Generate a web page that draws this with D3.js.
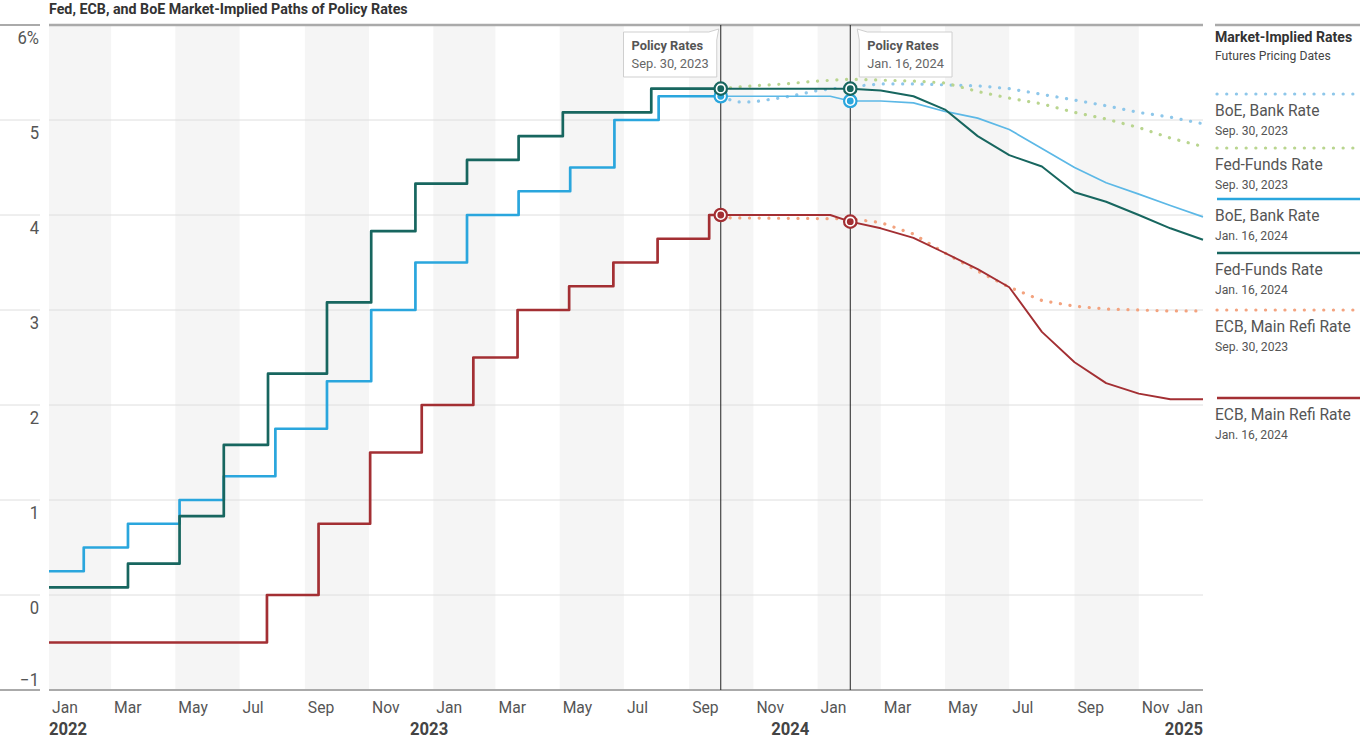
<!DOCTYPE html>
<html>
<head>
<meta charset="utf-8">
<script src="https://cdn.jsdelivr.net/npm/d3@7"></script>
<style>
  body { margin: 0; background: #fff; }
  svg { font-family: Roboto, "Noto Sans", sans-serif; }
</style>
</head>
<body>
<svg id="chart" width="1364" height="740"></svg>
<script>
// realised policy rates (step changes)
const fedHistory = [["2022-01-01",0.08],["2022-03-17",0.33],["2022-05-05",0.83],["2022-06-16",1.58],["2022-07-28",2.33],
  ["2022-09-22",3.08],["2022-11-03",3.83],["2022-12-15",4.33],["2023-02-02",4.58],["2023-03-23",4.83],
  ["2023-05-04",5.08],["2023-07-27",5.33],["2023-10-01",5.33]];
const boeHistory = [["2022-01-01",0.25],["2022-02-03",0.5],["2022-03-17",0.75],["2022-05-05",1.0],["2022-06-16",1.25],
  ["2022-08-04",1.75],["2022-09-22",2.25],["2022-11-03",3.0],["2022-12-15",3.5],["2023-02-02",4.0],
  ["2023-03-23",4.25],["2023-05-11",4.5],["2023-06-22",5.0],["2023-08-03",5.25],["2023-10-01",5.25]];
const ecbHistory = [["2022-01-01",-0.5],["2022-07-27",0.0],["2022-09-14",0.75],["2022-11-02",1.5],["2022-12-21",2.0],
  ["2023-02-08",2.5],["2023-03-22",3.0],["2023-05-10",3.25],["2023-06-21",3.5],["2023-08-02",3.75],
  ["2023-09-20",4.0],["2023-10-01",4.0]];

// futures-implied paths, pricing date Sep. 30, 2023
const boeSep = [["2023-10-01",5.25],["2023-10-15",5.19],["2023-11-01",5.19],["2023-12-01",5.24],["2024-01-01",5.31],
  ["2024-02-01",5.35],["2024-03-01",5.38],["2024-04-01",5.38],["2024-05-01",5.37],["2024-06-01",5.36],
  ["2024-07-01",5.33],["2024-08-01",5.27],["2024-09-01",5.21],["2024-10-01",5.15],["2024-11-01",5.08],
  ["2024-12-01",5.03],["2025-01-01",4.96]];
const fedSep = [["2023-10-01",5.33],["2023-11-01",5.36],["2023-12-01",5.38],["2024-01-01",5.41],["2024-02-01",5.43],
  ["2024-03-01",5.42],["2024-04-01",5.41],["2024-05-01",5.39],["2024-06-01",5.3],["2024-07-01",5.23],
  ["2024-08-01",5.17],["2024-09-01",5.08],["2024-10-01",5.01],["2024-11-01",4.92],["2024-12-01",4.81],
  ["2025-01-01",4.72]];
const ecbSep = [["2023-10-01",4.0],["2023-10-10",3.97],["2024-02-01",3.96],["2024-03-01",3.92],["2024-04-01",3.8],
  ["2024-05-01",3.6],["2024-06-01",3.41],["2024-07-01",3.24],["2024-08-01",3.1],["2024-09-01",3.04],
  ["2024-10-01",3.01],["2024-11-01",3.0],["2024-12-01",2.99],["2025-01-01",2.99]];

// futures-implied paths, pricing date Jan. 16, 2024
const boeJan = [["2023-10-01",5.25],["2024-01-13",5.25],["2024-02-01",5.2],["2024-03-01",5.2],["2024-04-01",5.18],
  ["2024-05-01",5.09],["2024-06-01",5.02],["2024-07-01",4.9],["2024-08-01",4.7],["2024-09-01",4.5],
  ["2024-10-01",4.34],["2024-11-01",4.22],["2024-12-01",4.1],["2025-01-01",3.98]];
const fedJan = [["2023-10-01",5.33],["2024-02-01",5.33],["2024-03-01",5.31],["2024-04-01",5.25],["2024-05-01",5.11],
  ["2024-06-01",4.83],["2024-07-01",4.63],["2024-08-01",4.51],["2024-09-01",4.24],["2024-10-01",4.14],
  ["2024-11-01",4.0],["2024-12-01",3.86],["2025-01-01",3.74]];
const ecbJan = [["2023-10-01",4.0],["2024-01-13",4.0],["2024-02-01",3.93],["2024-03-01",3.86],["2024-04-01",3.76],
  ["2024-05-01",3.6],["2024-06-01",3.43],["2024-07-01",3.24],["2024-08-01",2.77],["2024-09-01",2.45],
  ["2024-10-01",2.23],["2024-11-01",2.12],["2024-12-01",2.06],["2025-01-01",2.06]];

const snapshotDates = ["2023-10-01","2024-02-01"];
const snapshotLabels = ["Sep. 30, 2023","Jan. 16, 2024"];
const yTicks = [-1, 0, 1, 2, 3, 4, 5, 6];
const monthNames = ["Jan","Mar","May","Jul","Sep","Nov"];
const yearLabels = [["2022","2022-01-01"],["2023","2022-12-28"],["2024","2023-12-06"],["2025","2025-01-01"]];

const COLORS = {
  fed: "#17665f", boe: "#2aa6dd", ecb: "#a32f33",
  boeDot: "#8ec7ea", fedDot: "#b9d58f", ecbDot: "#f3a37f"
};

const parse = d3.timeParse("%Y-%m-%d");
const toPts = arr => arr.map(([d, v]) => ({ date: parse(d), value: v }));

const svg = d3.select("#chart");
const M = { left: 49, right: 1203, top: 25, bottom: 690 };

const x = d3.scaleTime()
  .domain([parse("2022-01-01"), parse("2025-01-01")])
  .range([M.left, M.right]);
const y = d3.scaleLinear().domain([-1, 6]).range([M.bottom, M.top]);

// title; its width sets the horizontal squeeze used to fake a condensed face
const title = svg.append("text")
  .attr("x", M.left).attr("y", 14)
  .attr("font-size", 15).attr("font-weight", "bold").attr("fill", "#333")
  .text("Fed, ECB, and BoE Market-Implied Paths of Policy Rates");
const sx = 359 / title.node().getComputedTextLength();

// alternating two-month bands
const bandStarts = d3.timeMonth.every(4).range(parse("2022-01-01"), parse("2025-01-01"));
svg.insert("g", "text").selectAll("rect")
  .data(bandStarts)
  .join("rect")
  .attr("x", d => x(d))
  .attr("width", d => Math.min(x(d3.timeMonth.offset(d, 2)), M.right) - x(d))
  .attr("y", M.top).attr("height", M.bottom - M.top)
  .attr("fill", "#f5f5f5");

// gridlines + y labels
const grid = svg.append("g");
grid.selectAll("line.g")
  .data(yTicks.filter(t => t > -1 && t < 6))
  .join("line")
  .attr("class", "g")
  .attr("x1", M.left).attr("x2", M.right)
  .attr("y1", d => y(d)).attr("y2", d => y(d))
  .attr("stroke", "#dedede").attr("stroke-width", 1);
grid.selectAll("line.l")
  .data(yTicks)
  .join("line")
  .attr("class", "l")
  .attr("x1", 0).attr("x2", 40)
  .attr("y1", d => y(d)).attr("y2", d => y(d))
  .attr("stroke", d => (d === 6 || d === -1) ? "#aaa" : "#dedede")
  .attr("stroke-width", d => (d === 6 || d === -1) ? 2 : 1);
grid.selectAll("text")
  .data(yTicks)
  .join("text")
  .attr("x", 39)
  .attr("y", d => d === -1 ? y(d) - 4 : y(d) + 19)
  .attr("text-anchor", "end")
  .attr("font-size", 17.5).attr("fill", "#555")
  .text(d => d === 6 ? "6%" : (d < 0 ? "\u2212" + Math.abs(d) : d));

// top and bottom rules
svg.append("line").attr("x1", M.left).attr("x2", M.right).attr("y1", M.top).attr("y2", M.top)
  .attr("stroke", "#aaa").attr("stroke-width", 2.5);
svg.append("line").attr("x1", M.left).attr("x2", M.right).attr("y1", M.bottom).attr("y2", M.bottom)
  .attr("stroke", "#aaa").attr("stroke-width", 2);

// x axis labels
const months = d3.timeMonth.every(2).range(parse("2022-01-01"), parse("2025-01-02"));
svg.append("g").selectAll("text")
  .data(months)
  .join("text")
  .attr("x", (d, i) => i === months.length - 1 ? M.right : x(d) + 3)
  .attr("y", 713)
  .attr("text-anchor", (d, i) => i === months.length - 1 ? "end" : "start")
  .attr("font-size", 16.5).attr("fill", "#555")
  .text(d => monthNames[d.getMonth() / 2]);
svg.append("g").selectAll("text")
  .data(yearLabels)
  .join("text")
  .attr("x", (d, i) => i === yearLabels.length - 1 ? M.right : x(parse(d[1])))
  .attr("y", 735)
  .attr("text-anchor", (d, i) => i === 0 ? "start" : (i === yearLabels.length - 1 ? "end" : "middle"))
  .attr("font-size", 17.5).attr("font-weight", "bold").attr("fill", "#444")
  .text(d => d[0]);

// lines
const stepLine = d3.line().x(d => x(d.date)).y(d => y(d.value)).curve(d3.curveStepAfter);
const line = d3.line().x(d => x(d.date)).y(d => y(d.value));
const plot = svg.append("g").attr("fill", "none");

[[boeHistory, COLORS.boe], [ecbHistory, COLORS.ecb], [fedHistory, COLORS.fed]].forEach(([data, c]) => {
  plot.append("path").attr("d", stepLine(toPts(data)))
    .attr("stroke", c).attr("stroke-width", 2.7).attr("stroke-linejoin", "round");
});

[[boeSep, COLORS.boeDot], [fedSep, COLORS.fedDot], [ecbSep, COLORS.ecbDot]].forEach(([data, c]) => {
  plot.append("path").attr("d", line(toPts(data)))
    .attr("stroke", c).attr("stroke-width", 3.2)
    .attr("stroke-linecap", "round").attr("stroke-dasharray", "0.1 9.6");
});

[[boeJan, "#5cb8e6", 1.7], [ecbJan, COLORS.ecb, 1.9], [fedJan, COLORS.fed, 2]].forEach(([data, c, w]) => {
  plot.append("path").attr("d", line(toPts(data)))
    .attr("stroke", c).attr("stroke-width", w).attr("stroke-linejoin", "round");
});

// snapshot lines
svg.append("g").selectAll("line")
  .data(snapshotDates)
  .join("line")
  .attr("x1", d => x(parse(d))).attr("x2", d => x(parse(d)))
  .attr("y1", M.top).attr("y2", M.bottom)
  .attr("stroke", "#222").attr("stroke-width", 1);

// markers on policy rate at each snapshot
const valueAt = (data, d) => toPts(data).find(p => +p.date === +parse(d)).value;
const markers = [];
snapshotDates.forEach(d => {
  [[boeJan, COLORS.boe], [ecbJan, COLORS.ecb], [fedJan, COLORS.fed]].forEach(([data, c]) => {
    markers.push({ date: parse(d), value: valueAt(data, d), color: c });
  });
});
const mk = svg.append("g").selectAll("g").data(markers).join("g")
  .attr("transform", d => `translate(${x(d.date)},${y(d.value)})`);
mk.append("circle").attr("r", 6.2).attr("fill", "#fff").attr("stroke", d => d.color).attr("stroke-width", 2.2);
mk.append("circle").attr("r", 3.4).attr("fill", d => d.color);

// annotation callouts
snapshotDates.forEach((d, i) => {
  const lx = x(parse(d));
  const g = svg.append("g");
  const path = g.append("path").attr("fill", "#fff").attr("stroke", "#cfcfcf").attr("stroke-width", 1);
  const t1 = g.append("text").attr("font-size", 13.5).attr("font-weight", "bold").attr("fill", "#555").text("Policy Rates");
  const t2 = g.append("text").attr("font-size", 13.5).attr("fill", "#666").text(snapshotLabels[i]);
  const w = Math.max(t1.node().getComputedTextLength(), t2.node().getComputedTextLength()) * sx + 16;
  const bt = 32, bb = 77;
  let bl, br, p;
  if (i === 0) {
    br = lx - 4; bl = br - w;
    p = `M${bl},${bt}H${br - 8}L${br + 2},${bt - 3}L${br},${bt + 8}V${bb}H${bl}Z`;
  } else {
    bl = lx + 9; br = bl + w;
    p = `M${br},${bt}H${bl + 8}L${bl - 2},${bt - 3}L${bl},${bt + 8}V${bb}H${br}Z`;
  }
  path.attr("d", p);
  t1.attr("x", bl + 8).attr("y", 50);
  t2.attr("x", bl + 8).attr("y", 68);
});

// legend
const lg = svg.append("g");
const lx0 = 1215, lx1 = 1360;
lg.append("line").attr("x1", lx0).attr("x2", lx1).attr("y1", M.top).attr("y2", M.top)
  .attr("stroke", "#aaa").attr("stroke-width", 2.5);
lg.append("text").attr("x", lx0).attr("y", 42).attr("font-size", 14.8).attr("font-weight", "bold")
  .attr("fill", "#333").text("Market-Implied Rates");
lg.append("text").attr("x", lx0).attr("y", 60).attr("font-size", 12.8).attr("fill", "#444")
  .text("Futures Pricing Dates");

const legendItems = [
  { name: "BoE, Bank Rate", date: snapshotLabels[0], color: COLORS.boeDot, dotted: true, ly: 94 },
  { name: "Fed-Funds Rate", date: snapshotLabels[0], color: COLORS.fedDot, dotted: true, ly: 148 },
  { name: "BoE, Bank Rate", date: snapshotLabels[1], color: COLORS.boe, dotted: false, ly: 199 },
  { name: "Fed-Funds Rate", date: snapshotLabels[1], color: COLORS.fed, dotted: false, ly: 253 },
  { name: "ECB, Main Refi Rate", date: snapshotLabels[0], color: COLORS.ecbDot, dotted: true, ly: 310 },
  { name: "ECB, Main Refi Rate", date: snapshotLabels[1], color: COLORS.ecb, dotted: false, ly: 398 }
];
const li = lg.selectAll("g.item").data(legendItems).join("g")
  .attr("class", "item")
  .attr("transform", d => `translate(${lx0},${d.ly})`);
li.append("line").attr("x1", 2).attr("x2", lx1 - lx0)
  .attr("stroke", d => d.color)
  .attr("stroke-width", d => d.dotted ? 3.2 : 2.5)
  .attr("stroke-linecap", d => d.dotted ? "round" : "butt")
  .attr("stroke-dasharray", d => d.dotted ? "0.1 9.6" : null);
li.append("text").attr("x", 0).attr("y", 22).attr("font-size", 16.4).attr("fill", "#555").text(d => d.name);
li.append("text").attr("x", 0).attr("y", 41).attr("font-size", 12.8).attr("fill", "#555").text(d => d.date);

// squeeze every label horizontally about its anchor point
svg.selectAll("text").each(function () {
  const t = d3.select(this);
  const tx = +t.attr("x") || 0, ty = +t.attr("y") || 0;
  t.attr("transform", `translate(${tx},${ty}) scale(${sx},1) translate(${-tx},${-ty})`);
});
</script>
</body>
</html>
